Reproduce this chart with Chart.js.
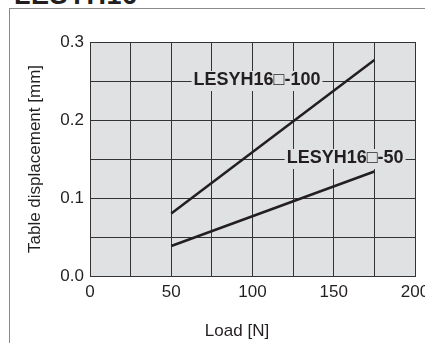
<!DOCTYPE html>
<html>
<head>
<meta charset="utf-8">
<script src="https://cdn.jsdelivr.net/npm/chart.js@4.4.1/dist/chart.umd.min.js"></script>
<style>
  html, body { margin: 0; padding: 0; background: #fff; }
  #wrap { position: relative; width: 425px; height: 343px; overflow: hidden; }
  #frame { position: absolute; left: 9px; top: 8px; right: -2px; bottom: -2px;
    border-left: 1px solid #8a8a8a; border-top: 1px solid #8a8a8a; }
  #head { position: absolute; left: 14px; top: -20px; line-height: 27px;
    font: bold 27px "Liberation Sans", Arial, sans-serif; color: #231f20; letter-spacing: 0.5px; }
  canvas { position: absolute; left: 0; top: 0; }
</style>
</head>
<body>
<div id="wrap">
  <div id="head">LESYH16</div>
  <div id="frame"></div>
  <canvas id="chart" width="425" height="343"></canvas>
</div>
<script>
const loads = [50, 175];
const disp100 = [0.080, 0.277];
const disp50 = [0.0385, 0.134];
const seriesNames = ["LESYH16\u25A1-100", "LESYH16\u25A1-50"];
const xMin = 0, xMax = 200, xStep = 25;
const yMin = 0, yMax = 0.3, yStep = 0.05;

const plotBg = "#e0e1e3";
const ink = "#231f20";
const font = "'Liberation Sans', Arial, sans-serif";

function toPoints(xs, ys) {
  return xs.map((x, i) => ({ x, y: ys[i] }));
}

// grey plot background
const bgPlugin = {
  id: "plotBg",
  beforeDraw(chart) {
    const { ctx, chartArea: a } = chart;
    ctx.save();
    ctx.fillStyle = plotBg;
    ctx.fillRect(a.left, a.top, a.right - a.left, a.bottom - a.top);
    ctx.restore();
  },
};

// series names sitting on the grid, with a patch of background behind them
const labelPlugin = {
  id: "seriesLabels",
  afterDatasetsDraw(chart) {
    const { ctx, scales } = chart;
    const spots = [
      { text: seriesNames[0], x: 102.8, y: 0.25 },
      { text: seriesNames[1], x: 157, y: 0.15 },
    ];
    ctx.save();
    ctx.font = `bold 18px ${font}`;
    ctx.textAlign = "center";
    ctx.textBaseline = "middle";
    spots.forEach((s) => {
      const px = scales.x.getPixelForValue(s.x);
      const py = scales.y.getPixelForValue(s.y);
      const w = ctx.measureText(s.text).width;
      ctx.fillStyle = plotBg;
      ctx.fillRect(px - w / 2 - 2, py - 10, w + 4, 20);
      ctx.fillStyle = ink;
      ctx.fillText(s.text, px, py - 1);
    });
    // x axis title
    ctx.font = `17px ${font}`;
    ctx.fillText("Load [N]", 237, 331);
    ctx.restore();
  },
};

new Chart(document.getElementById("chart"), {
  type: "line",
  data: {
    datasets: [
      { label: seriesNames[0], data: toPoints(loads, disp100) },
      { label: seriesNames[1], data: toPoints(loads, disp50) },
    ].map((d) => ({
      ...d,
      borderColor: ink,
      borderWidth: 2.5,
      pointRadius: 0,
      fill: false,
    })),
  },
  options: {
    responsive: false,
    animation: false,
    layout: { padding: { left: 25, top: 42, right: 10, bottom: 0 } },
    plugins: { legend: { display: false }, tooltip: { enabled: false } },
    scales: {
      x: {
        type: "linear",
        min: xMin,
        max: xMax,
        ticks: {
          stepSize: xStep,
          padding: 6,
          color: ink,
          font: { family: font, size: 17 },
          maxRotation: 0,
          callback: (v) => (v % 50 === 0 ? String(v) : ""),
        },
        grid: { color: "#333", lineWidth: 1, drawTicks: false },
        border: { color: "#333", width: 1 },
        afterFit(s) {
          s.height = 67;
          s.paddingLeft = 0;
          s.paddingRight = 0;
        },
      },
      y: {
        min: yMin,
        max: yMax,
        ticks: {
          stepSize: yStep,
          padding: 6,
          color: ink,
          font: { family: font, size: 17 },
          callback: (v) => (Math.round(v * 100) % 10 === 0 ? v.toFixed(1) : ""),
        },
        grid: { color: "#333", lineWidth: 1, drawTicks: false },
        border: { color: "#333", width: 1 },
        title: {
          display: true,
          text: "Table displacement [mm]",
          color: ink,
          font: { family: font, size: 17 },
          padding: { top: 0, bottom: 4 },
        },
        afterFit(s) {
          s.width = 65;
          s.paddingTop = 0;
          s.paddingBottom = 0;
        },
      },
    },
  },
  plugins: [bgPlugin, labelPlugin],
});
</script>
</body>
</html>
